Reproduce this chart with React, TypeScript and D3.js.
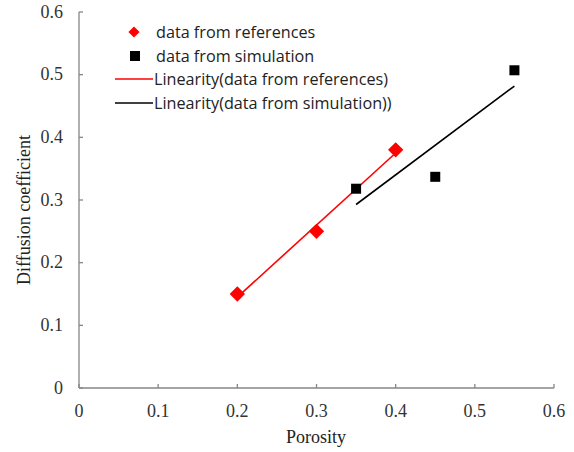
import React from "react";
import * as d3 from "d3";

const refX = [0.2, 0.3, 0.4];
const refY = [0.15, 0.25, 0.38];
const simX = [0.35, 0.45, 0.55];
const simY = [0.318, 0.337, 0.507];
const xTicks = [0, 0.1, 0.2, 0.3, 0.4, 0.5, 0.6];
const yTicks = [0, 0.1, 0.2, 0.3, 0.4, 0.5, 0.6];
const legendLabels = [
  "data from references",
  "data from simulation",
  "Linearity(data from references)",
  "Linearity(data from simulation))",
];

function fit(xs: number[], ys: number[]) {
  const mx = d3.mean(xs)!;
  const my = d3.mean(ys)!;
  let num = 0, den = 0;
  xs.forEach((x, i) => { num += (x - mx) * (ys[i] - my); den += (x - mx) ** 2; });
  const m = num / den;
  const b = my - m * mx;
  return (x: number) => m * x + b;
}

export default function App() {
  const W = 574, H = 452;
  const x = d3.scaleLinear().domain([0, 0.6]).range([79, 554]);
  const y = d3.scaleLinear().domain([0, 0.6]).range([388, 12]);
  const fr = fit(refX, refY);
  const fs = fit(simX, simY);
  const seg = d3.line<[number, number]>().x((d) => x(d[0])).y((d) => y(d[1]));
  const rx = d3.extent(refX) as [number, number];
  const sx = d3.extent(simX) as [number, number];
  const axisColor = "#868686";
  const serif = "Liberation Serif";
  const sans = "Open Sans";
  const diamond = d3.symbol().type(d3.symbolDiamond2).size(150)()!;
  const legY = [32, 56, 79, 103];
  return (
    <svg width={W} height={H} style={{ position: "absolute", left: 0, top: 0, background: "#fff" }}>
      {/* axes */}
      <line x1={x(0)} x2={x(0)} y1={y(0)} y2={y(0.6)} stroke={axisColor} strokeWidth={1.3} />
      <line x1={x(0)} x2={x(0.6)} y1={y(0)} y2={y(0)} stroke={axisColor} strokeWidth={1.3} />
      {yTicks.map((t) => (
        <g key={"y" + t}>
          <line x1={x(0)} x2={x(0) + 4} y1={y(t)} y2={y(t)} stroke={axisColor} strokeWidth={1.3} />
          <text x={63} y={y(t)} dy="0.32em" textAnchor="end" fontFamily={serif} fontSize={18} fill="#333">
            {t === 0 ? "0" : t.toFixed(1)}
          </text>
        </g>
      ))}
      {xTicks.map((t) => (
        <g key={"x" + t}>
          <line x1={x(t)} x2={x(t)} y1={y(0)} y2={y(0) - 4} stroke={axisColor} strokeWidth={1.3} />
          <text x={x(t)} y={417} textAnchor="middle" fontFamily={serif} fontSize={18} fill="#333">
            {t === 0 ? "0" : t.toFixed(1)}
          </text>
        </g>
      ))}
      <text x={316} y={443} textAnchor="middle" fontFamily={serif} fontSize={18} fill="#222">Porosity</text>
      <text transform={`translate(30,${210}) rotate(-90)`} textAnchor="middle" fontFamily={serif} fontSize={18} fill="#222">
        Diffusion coefficient
      </text>
      {/* trend lines */}
      <path d={seg([[rx[0], fr(rx[0])], [rx[1], fr(rx[1])]])!} stroke="#ff0000" strokeWidth={1.6} fill="none" />
      <path d={seg([[sx[0], fs(sx[0])], [sx[1], fs(sx[1])]])!} stroke="#000" strokeWidth={1.6} fill="none" />
      {/* points */}
      {refX.map((v, i) => (
        <path key={"r" + i} d={diamond} transform={`translate(${x(v)},${y(refY[i])})`} fill="#ff0000" />
      ))}
      {simX.map((v, i) => (
        <rect key={"s" + i} x={x(v) - 5} y={y(simY[i]) - 5} width={10} height={10} fill="#000" />
      ))}
      {/* legend */}
      <path d={d3.symbol().type(d3.symbolDiamond2).size(80)()!} transform={`translate(134,${legY[0]})`} fill="#ff0000" />
      <rect x={130} y={legY[1] - 5} width={10} height={10} fill="#000" />
      <line x1={115} x2={153} y1={legY[2]} y2={legY[2]} stroke="#ff0000" strokeWidth={1.6} />
      <line x1={115} x2={153} y1={legY[3]} y2={legY[3]} stroke="#000" strokeWidth={1.6} />
      {legendLabels.map((l, i) => (
        <text key={l} x={i < 2 ? 156 : 154} y={legY[i]} dy="0.35em" fontFamily={sans} fontSize={16.2}
          fill="#222" style={{ fontVariantLigatures: "none" }}>{l}</text>
      ))}
    </svg>
  );
}
